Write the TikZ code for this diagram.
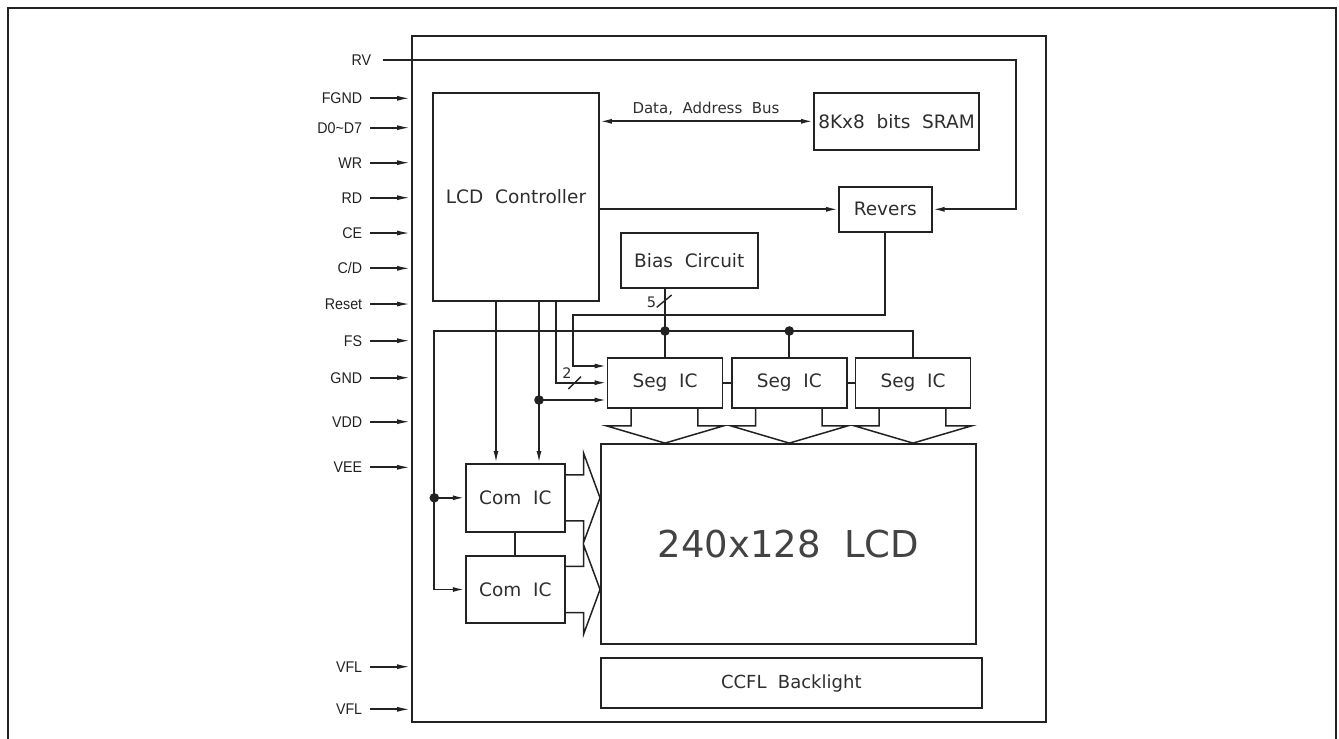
\documentclass[tikz,border=0pt]{standalone}
\usepackage{fontspec}
\setmainfont{DejaVu Sans}
\newfontfamily\pinfamily[FakeStretch=0.92]{Liberation Sans}
\usetikzlibrary{arrows.meta,calc}
\definecolor{ink}{HTML}{222222}
\definecolor{txt}{HTML}{2E2E2E}
\newcommand\bxfnt{\fontsize{18.5}{20}\selectfont}
\newcommand\pinfnt{\pinfamily\fontsize{15.5}{17}\selectfont}
\newcommand\lcdfnt{\fontsize{37}{40}\selectfont}
\newcommand\ccflfnt{\fontsize{18}{20}\selectfont}
\newcommand\busfnt{\fontsize{15}{17}\selectfont}
\newcommand\smallfnt{\fontsize{14.5}{16}\selectfont}
\newcommand\segarrow[1]{%
  \draw[fatarrow] ($(#1.south west)+(24.6,0)$) -- ++(0,17.3) -- ($(#1.south west)+(0,17.3)$)
     -- (#1.south |- lcd.north) -- ($(#1.south east)+(0,17.3)$) -- ($(#1.south east)+(-25.6,17.3)$)
     -- ($(#1.south east)+(-25.6,0)$);}
\newcommand\comarrow[1]{%
  \draw[fatarrow] ($(#1.north east)+(0,11.7)$) -- ($(#1.north east)+(17.7,11.7)$) -- ($(#1.north east)+(17.7,-10)$)
     -- (#1.east -| lcd.west) -- ($(#1.south east)+(17.7,10)$) -- ($(#1.south east)+(17.7,-11.7)$)
     -- ($(#1.south east)+(0,-11.7)$);}
\begin{document}
\begin{tikzpicture}[x=1pt,y=-1pt,
  line width=1.7pt, draw=ink, text=txt,
  box/.style={draw=ink, line width=1.8pt, inner sep=0pt, font=\bxfnt},
  arr/.style={-{Latex[length=12pt,width=5pt]}},
  pinarr/.style={-{Latex[length=14pt,width=5pt]}, line width=1.8pt},
  pin/.style={anchor=east, inner sep=0pt, font=\pinfnt, text=ink},
  fatarrow/.style={line width=1.5pt, line join=miter},
  dotc/.style={fill=ink}]
\useasboundingbox (0,0) rectangle (1339,739);
% outer frame
\draw[line width=1.8pt] (8,760) -- (8,8) -- (1336,8) -- (1336,760);
% module frame
\node[box, line width=2pt, minimum width=634pt, minimum height=686pt] (module) at (729,379) {};
% blocks
\node[box, minimum width=166pt, minimum height=208pt] (lcdc) at (516,197) {LCD~~Controller};
\node[box, minimum width=165pt, minimum height=57.3pt] (sram) at (896.5,121.3) {8Kx8~~bits~~SRAM};
\node[box, minimum width=92.6pt, minimum height=45.3pt] (revers) at (885.3,209.3) {Revers};
\node[box, minimum width=136.7pt, minimum height=55pt] (bias) at (689.3,260.8) {Bias~~Circuit};
\node[box, minimum width=115pt, minimum height=50pt] (seg1) at (665,382.7) {Seg~~IC};
\node[box, minimum width=115pt, minimum height=50pt] (seg2) at (789.3,382.7) {Seg~~IC};
\node[box, minimum width=115pt, minimum height=50pt] (seg3) at (913,382.7) {Seg~~IC};
\node[box, minimum width=99.3pt, minimum height=67.7pt] (com1) at (515.3,497.8) {Com~~IC};
\node[box, minimum width=99.3pt, minimum height=67.7pt] (com2) at (515.3,589.5) {Com~~IC};
\node[box, minimum width=374.7pt, minimum height=200pt, font=\lcdfnt, text=ink!85] (lcd) at (788.3,544) {240x128~~LCD};
\node[box, minimum width=380.7pt, minimum height=50pt, font=\ccflfnt] (ccfl) at (791.3,683.3) {CCFL~~Backlight};
\node[font=\busfnt, inner sep=0pt] (buslbl) at (706,109) {Data,~~Address~~Bus};
% pins
\node[pin] (pRV) at (372,60) {RV};
\node[pin] (p1) at (363,98.3) {FGND};
\node[pin] (p2) at (363,127.7) {D0\textasciitilde D7};
\node[pin] (p3) at (363,162.7) {WR};
\node[pin] (p4) at (363,197.7) {RD};
\node[pin] (p5) at (363,233) {CE};
\node[pin] (p6) at (363,268.3) {C/D};
\node[pin] (p7) at (363,304) {Reset};
\node[pin] (p8) at (363,340.7) {FS};
\node[pin] (p9) at (363,377.7) {GND};
\node[pin] (p10) at (363,421.7) {VDD};
\node[pin] (p11) at (363,467.3) {VEE};
\node[pin] (p12) at (363,666.7) {VFL};
\node[pin] (p13) at (363,709.3) {VFL};
\foreach \p in {p1,p2,p3,p4,p5,p6,p7,p8,p9,p10,p11,p12,p13}
  \draw[pinarr] ([xshift=7pt]\p.east) -- (\p.east -| module.west);
% RV line
\coordinate (rvc) at (1016,60);
\draw[arr, line width=1.8pt] ([xshift=11pt]pRV.east) -- (rvc) |- (revers.east);
% bus and controller to revers
\draw[{Latex[length=12pt,width=5pt]}-{Latex[length=12pt,width=5pt]}] (lcdc.east |- sram.west) -- (sram.west);
\draw[arr] (lcdc.east |- revers.west) -- (revers.west);
% helper coordinates
\coordinate (fsbus) at (434.3,331);
\coordinate (xa) at (496,0);
\coordinate (xb) at (539,0);
\coordinate (xc) at (556,0);
\coordinate (xr) at (573.3,0);
\coordinate (yr) at (0,315);
\coordinate (yin1) at (0,366);
\coordinate (yin3) at (0,400);
% FS bus
\draw[arr] (seg3.north) |- (fsbus) |- (com2.west);
\draw (seg2.north) -- (seg2.north |- fsbus);
\draw (seg1.north |- bias.south) -- (seg1.north);
\fill[dotc] (seg1.north |- fsbus) circle[radius=4.8pt];
\fill[dotc] (seg2.north |- fsbus) circle[radius=4.8pt];
\coordinate (dcom) at (fsbus |- com1.west);
\fill[dotc] (dcom) circle[radius=4.8pt];
\draw[arr] (dcom) -- (com1.west);
% bias slash
\draw[line width=1.4pt] (656.7,307.3) -- (671.7,295);
\node[font=\smallfnt, inner sep=0pt] (n5) at (651.5,302) {5};
% revers to seg1
\draw[arr] (revers.south) |- (xr |- yr) |- (seg1.west |- yin1);
% controller outputs
\draw[arr] (lcdc.south -| xa) -- (com1.north -| xa);
\draw[arr] (lcdc.south -| xb) -- (com1.north -| xb);
\coordinate (dseg) at (xb |- yin3);
\fill[dotc] (dseg) circle[radius=4.8pt];
\draw[arr] (dseg) -- (seg1.west |- yin3);
\draw[arr] (lcdc.south -| xc) |- (seg1.west);
\draw[line width=1.4pt] (568.3,389) -- (581,376.7);
\node[font=\smallfnt, inner sep=0pt] (n2) at (567,373.5) {2};
% interconnects
\draw (seg1.east) -- (seg2.west);
\draw (seg2.east) -- (seg3.west);
\draw (com1.south) -- (com2.north);
% fat arrows
\segarrow{seg1}
\segarrow{seg2}
\segarrow{seg3}
\comarrow{com1}
\comarrow{com2}
\end{tikzpicture}
\end{document}
